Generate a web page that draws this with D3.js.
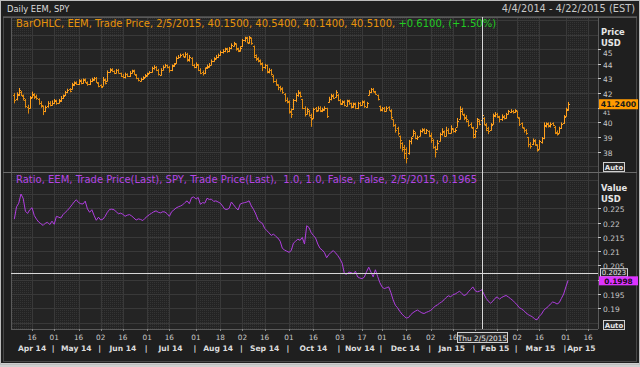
<!DOCTYPE html>
<html>
<head>
<meta charset="utf-8">
<style>
  html, body { margin: 0; padding: 0; background: #1e1e1e; }
  svg { display: block; font-family: "DejaVu Sans", sans-serif; }
</style>
<script src="https://cdn.jsdelivr.net/npm/d3@7"></script>
</head>
<body>
<svg id="chart" width="640" height="367"></svg>
<script>
// axis range and market holidays (trading-day axis)
const startDate = "2014-04-04";
const endDate = "2015-04-22";
const holidays = ["2014-04-18", "2014-05-26", "2014-07-04", "2014-09-01", "2014-11-27",
  "2014-12-25", "2015-01-01", "2015-01-19", "2015-02-16", "2015-04-03"];

// EEM daily bars, one value per trading day from 4/4/2014
const opens = [
  41.85, 41.6, 41.9, 42.1, 41.8, 41.5, 41.05, 41.0, 41.75, 41.9,
  41.75, 41.6, 41.35, 41.1, 40.8, 41.1, 41.35, 41.2, 41.3, 41.5,
  41.35, 41.45, 41.65, 41.85, 42.1, 42.25, 42.3, 42.55, 42.75, 42.6,
  42.9, 42.7, 42.95, 42.7, 42.6, 42.8, 42.9, 43.05, 42.7, 42.55,
  42.5, 42.95, 42.8, 43.45, 43.65, 43.5, 43.4, 43.6, 43.35, 43.2,
  43.1, 43.3, 43.2, 43.4, 43.55, 43.25, 43.0, 42.85, 42.95, 43.1,
  43.2, 43.35, 43.45, 43.7, 43.8, 43.6, 43.25, 43.6, 43.8, 43.9,
  43.8, 43.55, 43.85, 44.05, 44.4, 44.5, 44.65, 44.5, 44.7, 44.25,
  44.4, 43.9, 43.75, 43.95, 43.6, 43.45, 43.35, 43.75, 43.8, 43.95,
  44.2, 44.4, 44.45, 44.6, 44.8, 44.85, 45.05, 44.85, 45.1, 45.25,
  45.35, 45.05, 44.9, 45.2, 45.6, 45.8, 45.45, 45.75, 45.2, 44.6,
  44.4, 44.25, 44.05, 43.75, 43.9, 43.45, 43.6, 43.2, 42.85, 42.55,
  42.4, 42.35, 41.95, 41.55, 41.4, 40.7, 40.9, 41.55, 41.85, 42.05,
  41.6, 41.0, 40.6, 40.8, 40.4, 40.3, 40.95, 40.85, 41.0, 40.8,
  40.85, 40.95, 41.4, 41.6, 41.85, 41.75, 41.9, 41.5, 41.25, 41.45,
  41.15, 41.5, 41.3, 41.05, 41.3, 40.95, 41.35, 41.2, 41.45, 41.05,
  41.9, 42.05, 42.3, 42.1, 41.85, 41.1, 40.85, 40.95, 40.8, 41.05,
  40.8, 40.2, 39.8, 39.6, 39.1, 38.6, 38.2, 38.2, 37.9, 38.7,
  39.1, 39.3, 38.9, 39.1, 39.4, 39.55, 39.3, 39.4, 39.15, 38.8,
  38.3, 38.2, 38.75, 39.2, 39.35, 39.1, 39.5, 39.3, 39.55, 39.4,
  39.7, 40.2, 40.9, 40.5, 40.35, 40.1, 39.9, 39.6, 39.0, 39.6,
  40.1, 40.15, 40.3, 39.85, 39.6, 39.5, 39.9, 40.45, 40.6, 40.4,
  40.2, 40.45, 40.3, 40.6, 40.7, 40.8, 40.7, 40.75, 40.3, 39.95,
  39.6, 39.5, 39.0, 38.55, 38.5, 38.75, 38.45, 38.2, 38.65, 38.95,
  39.75, 39.95, 39.75, 39.95, 39.7, 39.35, 39.3, 39.6, 39.95, 40.45, 40.85
];
const highs = [
  42.0, 42.05, 42.35, 42.15, 41.9, 41.6, 41.2, 41.8, 42.1, 42.0,
  41.9, 41.65, 41.45, 41.15, 41.15, 41.45, 41.45, 41.5, 41.6, 41.55,
  41.6, 41.8, 41.9, 42.15, 42.3, 42.35, 42.7, 42.8, 42.8, 42.95,
  42.95, 43.0, 43.0, 42.8, 42.95, 43.05, 43.1, 43.1, 42.75, 42.6,
  43.1, 43.0, 43.55, 43.7, 43.7, 43.55, 43.65, 43.65, 43.4, 43.3,
  43.4, 43.35, 43.5, 43.6, 43.6, 43.3, 43.05, 43.05, 43.15, 43.3,
  43.4, 43.5, 43.8, 43.9, 43.85, 43.65, 43.7, 43.9, 44.0, 43.95,
  43.85, 43.95, 44.05, 44.5, 44.6, 44.7, 44.7, 44.8, 44.75, 44.6,
  44.45, 44.0, 44.1, 44.0, 43.7, 43.55, 43.75, 43.95, 44.05, 44.3,
  44.45, 44.6, 44.7, 44.9, 45.0, 45.1, 45.1, 45.15, 45.4, 45.5,
  45.4, 45.1, 45.2, 45.7, 45.85, 45.85, 45.9, 45.8, 45.25, 44.65,
  44.45, 44.3, 44.1, 44.0, 43.95, 43.7, 43.65, 43.25, 42.95, 42.6,
  42.5, 42.4, 42.0, 41.7, 41.5, 40.95, 41.6, 42.0, 42.2, 42.1,
  41.6, 41.1, 41.0, 40.85, 40.6, 41.0, 41.05, 41.1, 41.1, 41.0,
  41.1, 41.0, 41.75, 41.95, 41.95, 42.2, 41.95, 41.6, 41.5, 41.5,
  41.55, 41.55, 41.35, 41.35, 41.35, 41.4, 41.4, 41.5, 41.5, 41.4,
  42.2, 42.35, 42.35, 42.15, 41.9, 41.15, 41.05, 41.05, 41.1, 41.1,
  40.9, 40.2, 39.9, 39.7, 39.1, 38.65, 38.45, 38.3, 38.8, 39.0,
  39.5, 39.35, 39.1, 39.5, 39.6, 39.6, 39.55, 39.45, 39.3, 38.85,
  38.4, 38.8, 39.3, 39.6, 39.45, 39.7, 39.6, 39.8, 39.6, 39.6,
  40.3, 41.1, 41.0, 40.6, 40.5, 40.15, 40.0, 39.7, 39.5, 40.3,
  40.2, 40.54, 40.35, 39.95, 39.7, 39.95, 40.6, 40.7, 40.65, 40.45,
  40.55, 40.5, 40.65, 40.85, 40.9, 40.85, 40.9, 40.8, 40.35, 40.0,
  39.65, 39.55, 39.0, 38.65, 38.9, 38.85, 38.5, 38.8, 39.0, 40.0,
  40.0, 40.0, 40.0, 40.0, 39.75, 39.45, 39.7, 40.0, 40.5, 41.0, 41.4
];
const lows = [
  41.3, 41.5, 41.8, 41.8, 41.5, 41.0, 40.6, 40.95, 41.65, 41.6,
  41.55, 41.2, 41.0, 40.5, 40.7, 41.0, 41.1, 41.15, 41.25, 41.2,
  41.3, 41.4, 41.6, 41.8, 42.0, 42.05, 42.25, 42.5, 42.55, 42.55,
  42.6, 42.65, 42.7, 42.5, 42.55, 42.75, 42.85, 42.7, 42.4, 42.35,
  42.5, 42.6, 42.8, 43.4, 43.45, 43.3, 43.35, 43.35, 43.1, 43.0,
  43.0, 43.1, 43.1, 43.35, 43.25, 42.95, 42.8, 42.8, 42.9, 43.05,
  43.15, 43.3, 43.4, 43.6, 43.5, 43.2, 43.2, 43.55, 43.75, 43.7,
  43.4, 43.5, 43.8, 44.0, 44.35, 44.45, 44.45, 44.45, 44.15, 44.15,
  43.85, 43.7, 43.7, 43.5, 43.3, 43.2, 43.3, 43.65, 43.75, 43.9,
  44.15, 44.3, 44.4, 44.55, 44.7, 44.8, 44.75, 44.8, 45.0, 45.2,
  44.9, 44.8, 44.85, 45.15, 45.5, 45.4, 45.4, 45.3, 44.4, 44.2,
  44.1, 43.9, 43.5, 43.65, 43.35, 43.35, 43.2, 42.7, 42.5, 42.2,
  42.1, 41.95, 41.4, 41.3, 40.6, 40.3, 40.85, 41.4, 41.75, 41.7,
  40.9, 40.4, 40.55, 40.4, 39.7, 40.25, 40.7, 40.75, 40.7, 40.7,
  40.8, 40.3, 41.35, 41.5, 41.6, 41.7, 41.45, 41.2, 41.2, 41.1,
  41.1, 41.2, 40.95, 41.0, 40.9, 40.9, 41.1, 41.15, 41.0, 41.0,
  41.85, 42.0, 42.05, 41.9, 41.5, 40.75, 40.75, 40.7, 40.75, 40.8,
  40.2, 39.7, 39.3, 39.1, 38.2, 38.0, 37.5, 37.2, 37.8, 38.5,
  39.05, 38.85, 38.8, 39.05, 39.3, 39.2, 39.2, 39.0, 38.6, 38.2,
  37.6, 38.1, 38.7, 39.1, 39.0, 39.05, 39.2, 39.25, 39.3, 39.3,
  39.7, 40.2, 40.5, 40.15, 40.0, 39.7, 39.6, 38.9, 38.95, 39.6,
  39.8, 40.14, 39.8, 39.4, 39.2, 39.45, 39.85, 40.35, 40.3, 40.0,
  40.1, 40.2, 40.25, 40.55, 40.65, 40.6, 40.65, 40.3, 39.75, 39.6,
  39.3, 39.15, 38.3, 38.2, 38.45, 38.4, 38.0, 38.15, 38.55, 38.85,
  39.65, 39.65, 39.65, 39.75, 39.2, 39.1, 39.25, 39.55, 39.9, 40.4, 40.8
];
const closes = [
  41.55, 41.95, 42.2, 41.9, 41.65, 41.1, 40.95, 41.7, 41.95, 41.8,
  41.7, 41.3, 41.2, 40.75, 41.05, 41.3, 41.2, 41.35, 41.45, 41.3,
  41.5, 41.7, 41.8, 42.05, 42.2, 42.15, 42.6, 42.7, 42.65, 42.85,
  42.7, 42.9, 42.75, 42.6, 42.85, 42.95, 43.0, 42.75, 42.5, 42.45,
  42.9, 42.7, 43.45, 43.6, 43.5, 43.35, 43.55, 43.4, 43.2, 43.1,
  43.3, 43.15, 43.4, 43.5, 43.3, 43.0, 42.9, 42.95, 43.05, 43.25,
  43.3, 43.45, 43.7, 43.8, 43.55, 43.3, 43.6, 43.8, 43.9, 43.75,
  43.6, 43.9, 44.0, 44.4, 44.5, 44.6, 44.55, 44.7, 44.3, 44.45,
  43.95, 43.8, 44.0, 43.6, 43.4, 43.35, 43.7, 43.85, 43.95, 44.2,
  44.35, 44.5, 44.6, 44.8, 44.9, 45.0, 44.85, 45.05, 45.3, 45.4,
  45.0, 44.95, 45.1, 45.6, 45.75, 45.5, 45.8, 45.4, 44.5, 44.35,
  44.2, 44.0, 43.8, 43.9, 43.5, 43.6, 43.3, 42.8, 42.6, 42.4,
  42.3, 42.1, 41.5, 41.45, 40.8, 40.6, 41.5, 41.9, 42.0, 41.8,
  41.0, 40.6, 40.9, 40.5, 40.2, 40.9, 40.8, 41.0, 40.85, 40.9,
  41.0, 40.45, 41.6, 41.8, 41.7, 42.1, 41.55, 41.3, 41.4, 41.2,
  41.45, 41.3, 41.1, 41.25, 41.0, 41.3, 41.2, 41.4, 41.1, 41.3,
  42.1, 42.25, 42.15, 41.95, 41.6, 40.9, 40.95, 40.8, 41.0, 40.85,
  40.4, 39.8, 39.5, 39.3, 38.8, 38.3, 37.9, 37.6, 38.7, 38.9,
  39.4, 38.95, 39.0, 39.4, 39.5, 39.3, 39.45, 39.1, 38.9, 38.3,
  38.0, 38.6, 39.2, 39.4, 39.1, 39.5, 39.3, 39.6, 39.4, 39.5,
  40.1, 40.8, 40.6, 40.3, 40.2, 39.8, 39.7, 39.2, 39.4, 40.2,
  39.9, 40.51, 39.9, 39.5, 39.4, 39.8, 40.5, 40.6, 40.45, 40.2,
  40.4, 40.3, 40.55, 40.75, 40.8, 40.7, 40.85, 40.4, 39.9, 39.7,
  39.45, 39.3, 38.5, 38.4, 38.8, 38.5, 38.1, 38.7, 38.9, 39.8,
  39.9, 39.8, 39.9, 39.85, 39.3, 39.2, 39.6, 39.9, 40.4, 40.9, 41.24
];

// EEM / SPY ratio, same trading days
const ratio = [
  0.2212, 0.2255, 0.2268, 0.2300, 0.2285, 0.2240, 0.2232, 0.2245, 0.2252, 0.2225,
  0.2212, 0.2202, 0.2196, 0.2190, 0.2198, 0.2201, 0.2193, 0.2205, 0.2194, 0.2222,
  0.2219, 0.2216, 0.2228, 0.2236, 0.2243, 0.2252, 0.2262, 0.2272, 0.2280, 0.2270,
  0.2266, 0.2265, 0.2275, 0.2248, 0.2236, 0.2245, 0.2225, 0.2208, 0.2219, 0.2209,
  0.2212, 0.2222, 0.2236, 0.2246, 0.2247, 0.2245, 0.2238, 0.2231, 0.2233, 0.2229,
  0.2222, 0.2226, 0.2228, 0.2223, 0.2216, 0.2209, 0.2213, 0.2211, 0.2207, 0.2215,
  0.2222, 0.2228, 0.2233, 0.2238, 0.2241, 0.2236, 0.2234, 0.2238, 0.2237, 0.2231,
  0.2222, 0.2238, 0.2244, 0.2251, 0.2255, 0.2258, 0.2262, 0.2270, 0.2276, 0.2266,
  0.2287, 0.2290, 0.2282, 0.2288, 0.2264, 0.2270, 0.2268, 0.2285, 0.2281, 0.2282,
  0.2274, 0.2276, 0.2272, 0.2268, 0.2258, 0.2247, 0.2246, 0.2250, 0.2272, 0.2262,
  0.2252, 0.2244, 0.2265, 0.2268, 0.2270, 0.2272, 0.2276, 0.2258, 0.2246, 0.2230,
  0.2210, 0.2202, 0.2197, 0.2180, 0.2172, 0.2164, 0.2155, 0.2160, 0.2152, 0.2146,
  0.2135, 0.2110, 0.2104, 0.2100, 0.2096, 0.2102, 0.2128, 0.2135, 0.2142, 0.2138,
  0.2148, 0.2125, 0.2189, 0.2183, 0.2165, 0.2155, 0.2146, 0.2125, 0.2110, 0.2104,
  0.2095, 0.2077, 0.2088, 0.2096, 0.2102, 0.2094, 0.2085, 0.2073, 0.2058, 0.2022,
  0.2019, 0.2027, 0.2025, 0.2021, 0.2030, 0.2010, 0.2006, 0.2004, 0.2009, 0.2028,
  0.2044, 0.2027, 0.2010, 0.2035, 0.2012, 0.1990, 0.1975, 0.1969, 0.1972, 0.1975,
  0.1955, 0.1930, 0.1911, 0.1902, 0.1890, 0.1880, 0.1872, 0.1866, 0.1868, 0.1878,
  0.1885, 0.1890, 0.1894, 0.1889, 0.1884, 0.1882, 0.1886, 0.1889, 0.1893, 0.1900,
  0.1908, 0.1912, 0.1918, 0.1923, 0.1930, 0.1938, 0.1944, 0.1940, 0.1948, 0.1950,
  0.1955, 0.1960, 0.1952, 0.1945, 0.1948, 0.1958, 0.1966, 0.1975, 0.1962, 0.1958,
  0.1960, 0.1965, 0.1950, 0.1935, 0.1925, 0.1918, 0.1925, 0.1935, 0.1940, 0.1932,
  0.1938, 0.1942, 0.1945, 0.1940, 0.1934, 0.1928, 0.1920, 0.1912, 0.1902, 0.1898,
  0.1892, 0.1884, 0.1878, 0.1874, 0.1870, 0.1862, 0.1860, 0.1872, 0.1880, 0.1893,
  0.1900, 0.1906, 0.1915, 0.1922, 0.1920, 0.1915, 0.1920, 0.1935, 0.1950, 0.1975, 0.1998
];

const priceTicks = [38, 39, 40, 41, 42, 43, 44, 45];
const ratioTicks = [0.19, 0.195, 0.2, 0.205, 0.21, 0.215, 0.22, 0.225];
const priceDomain = [36.61, 47.2];
const ratioDomain = [0.18277, 0.2377];

// crosshair state
const crossDate = "2015-02-05";
const crossValue = 0.2023;
const crossChangePct = "+1.50%";

const plot = { left: 11, right: 598, top: 17, mid: 172, bottom: 329 };
const svg = d3.select("#chart");

const parse = d3.timeParse("%Y-%m-%d");
const fmt = d3.timeFormat("%Y-%m-%d");
const days = d3.timeDay
  .range(parse(startDate), d3.timeDay.offset(parse(endDate), 1))
  .filter((d) => d.getDay() !== 0 && d.getDay() !== 6 && !holidays.includes(fmt(d)));

const x = d3.scaleLinear().domain([-1.5, days.length - 0.5]).range([plot.left, plot.right]);
const yP = d3.scaleLinear().domain(priceDomain).range([plot.mid, plot.top]);
const yR = d3.scaleLinear().domain(ratioDomain).range([plot.bottom, plot.mid]);
const step = x(1) - x(0);
const px = (v) => Math.round(v) + 0.5;

// day ticks: first trading day on/after the 1st and the 16th
const dayTicks = [];
d3.timeMonth.range(d3.timeMonth.floor(days[0]), days[days.length - 1]).forEach((m) => {
  [1, 16].forEach((dd) => {
    const target = new Date(m.getFullYear(), m.getMonth(), dd);
    const i = days.findIndex((d) => d >= target);
    if (i < 0 || days[i].getMonth() !== m.getMonth()) return;
    if (dd === 1 && days[i].getDate() > 3) return;
    dayTicks.push({ i, dd });
  });
});

// month spans
const monthStarts = days
  .map((d, i) => i)
  .filter((i) => i === 0 || days[i].getMonth() !== days[i - 1].getMonth());

// ---- background & frame
const defs = svg.append("defs");
const pat = defs.append("pattern").attr("id", "dots")
  .attr("width", 2).attr("height", 2).attr("patternUnits", "userSpaceOnUse");
pat.append("rect").attr("width", 1).attr("height", 1).attr("fill", "#343434");

svg.append("rect").attr("width", 640).attr("height", 367).attr("fill", "#1f1f1f");
svg.append("rect").attr("x", 0).attr("y", 363).attr("width", 640).attr("height", 4).attr("fill", "#cfcfcf");
svg.append("rect").attr("x", 0.5).attr("y", 0.5).attr("width", 639).attr("height", 364)
  .attr("fill", "none").attr("stroke", "#bdbdbd");
svg.append("rect").attr("x", 3.5).attr("y", 16.5).attr("width", 633).attr("height", 345)
  .attr("fill", "none").attr("stroke", "#474747");

[[plot.top, plot.mid], [plot.mid, plot.bottom]].forEach(([t, b]) => {
  svg.append("rect").attr("x", plot.left).attr("y", t)
    .attr("width", plot.right - plot.left).attr("height", b - t).attr("fill", "#242424");
  // textured first half of each month
  dayTicks.forEach((tk, k) => {
    if (tk.dd !== 1) return;
    const next = dayTicks[k + 1];
    const x0 = x(tk.i);
    const x1 = next ? x(next.i) : plot.right;
    svg.append("rect").attr("x", x0).attr("y", t).attr("width", x1 - x0)
      .attr("height", b - t).attr("fill", "url(#dots)");
  });
  svg.append("rect").attr("x", plot.left).attr("y", t).attr("width", x(dayTicks[0].i) - plot.left)
    .attr("height", b - t).attr("fill", "url(#dots)");
});

// grid
const grid = svg.append("g").attr("stroke", "#393939").attr("stroke-width", 1);
dayTicks.forEach((tk) => {
  grid.append("line").attr("x1", px(x(tk.i))).attr("x2", px(x(tk.i)))
    .attr("y1", plot.top).attr("y2", plot.bottom);
});
d3.range(37, 48).forEach((v) => {
  const yy = px(yP(v));
  if (yy > plot.top && yy < plot.mid) grid.append("line").attr("x1", plot.left).attr("x2", plot.right).attr("y1", yy).attr("y2", yy);
});
d3.range(0.185, 0.2375, 0.005).forEach((v) => {
  const yy = px(yR(v));
  if (yy > plot.mid && yy < plot.bottom) grid.append("line").attr("x1", plot.left).attr("x2", plot.right).attr("y1", yy).attr("y2", yy);
});

// panel borders
const border = svg.append("g").attr("stroke", "#5a5a5a").attr("fill", "none");
border.append("line").attr("x1", plot.left + 0.5).attr("x2", plot.left + 0.5).attr("y1", plot.top).attr("y2", plot.bottom);
border.append("line").attr("x1", plot.right + 0.5).attr("x2", plot.right + 0.5).attr("y1", plot.top).attr("y2", plot.bottom);
border.append("line").attr("x1", 3).attr("x2", 637).attr("y1", plot.top + 0.5).attr("y2", plot.top + 0.5);
border.append("line").attr("x1", 3).attr("x2", 637).attr("y1", plot.mid + 0.5).attr("y2", plot.mid + 0.5).attr("stroke", "#6a6a6a");
border.append("line").attr("x1", plot.left).attr("x2", plot.right).attr("y1", plot.bottom + 0.5).attr("y2", plot.bottom + 0.5);

// ---- OHLC bars
const bars = closes.map((c, i) => ({ i, o: opens[i], h: highs[i], l: lows[i], c }));
svg.append("g")
  .selectAll("path")
  .data(bars)
  .join("path")
  .attr("fill", "none")
  .attr("stroke", (d) => (d.c >= d.o ? "#ffa01e" : "#e08a10"))
  .attr("stroke-width", 1)
  .attr("d", (d) => {
    const cx = px(x(d.i));
    return `M${cx},${yP(d.h)}V${yP(d.l)}M${cx - 1.5},${px(yP(d.o))}H${cx}M${cx},${px(yP(d.c))}H${cx + 1.5}`;
  });

// ---- ratio line
svg.append("path")
  .datum(ratio)
  .attr("fill", "none")
  .attr("stroke", "#b03ee0")
  .attr("stroke-width", 1)
  .attr("d", d3.line().x((d, i) => x(i)).y((d) => yR(d)));

// ---- crosshair
const ci = days.findIndex((d) => fmt(d) === crossDate);
const cxPos = px(x(ci));
svg.append("line").attr("x1", cxPos).attr("x2", cxPos).attr("y1", plot.top).attr("y2", plot.bottom)
  .attr("stroke", "#d8d8d8");
svg.append("line").attr("x1", plot.left).attr("x2", plot.right)
  .attr("y1", px(yR(crossValue))).attr("y2", px(yR(crossValue)))
  .attr("stroke", "#d8d8d8");

// ---- texts
const txt = (g, xx, yy, s, opts = {}) =>
  g.append("text").attr("x", xx).attr("y", yy).text(s)
    .attr("font-size", opts.size || 7.5)
    .attr("font-weight", opts.bold ? "bold" : null)
    .attr("fill", opts.fill || "#c8c8c8")
    .attr("text-anchor", opts.anchor || "start");

const dateFmt = d3.timeFormat("%-m/%-d/%Y");
const labels = svg.append("g");
txt(labels, 7, 12, "Daily EEM, SPY", { fill: "#dcdcdc", size: 8.4 });
txt(labels, 635, 12, `${dateFmt(days[0])} - ${dateFmt(days[days.length - 1])} (EST)`,
  { anchor: "end", fill: "#c8c8c8", size: 9.8 });

const f4 = d3.format(".4f");
const crossLabel = dateFmt(days[ci]);
const change = closes[ci] - closes[ci - 1];
const h1 = labels.append("text").attr("x", 16).attr("y", 27).attr("font-size", 10);
h1.append("tspan").attr("fill", "#e8940c")
  .text(`BarOHLC, EEM, Trade Price, ${crossLabel}, ${f4(opens[ci])}, ${f4(highs[ci])}, ${f4(lows[ci])}, ${f4(closes[ci])}, `);
h1.append("tspan").attr("fill", "#22cc22").text(`${change >= 0 ? "+" : ""}${f4(change)}, (${crossChangePct})`);

labels.append("text").attr("x", 16).attr("y", 183).attr("font-size", 10)
  .attr("fill", "#b446e4").style("white-space", "pre")
  .text(`Ratio, EEM, Trade Price(Last), SPY, Trade Price(Last),  1.0, 1.0, False, False, ${crossLabel}, ${ratio[ci].toFixed(4)}`);

// price axis
const lastI = closes.length - 1;
const axisG = svg.append("g");
txt(axisG, 601, 35, "Price", { bold: true, fill: "#e6e6e6", size: 8.4 });
txt(axisG, 601, 46, "USD", { bold: true, fill: "#e6e6e6", size: 8.4 });
priceTicks.forEach((v) => {
  const yy = px(yP(v));
  axisG.append("line").attr("x1", 598).attr("x2", 601).attr("y1", yy).attr("y2", yy).attr("stroke", "#c8c8c8");
  // top label is pushed below the unit caption; the one under the last-value tag peeks out below it
  let ly = Math.max(yy + 3, 56);
  if (Math.abs(yP(v) - yP(closes[lastI])) < 6) ly = yP(closes[lastI]) + 11;
  txt(axisG, 603, ly, String(v), { size: Math.abs(yP(v) - yP(closes[lastI])) < 6 ? 6 : 7.5 });
});
txt(axisG, 601, 191, "Value", { bold: true, fill: "#e6e6e6", size: 8.4 });
txt(axisG, 601, 202, "USD", { bold: true, fill: "#e6e6e6", size: 8.4 });
ratioTicks.forEach((v) => {
  const yy = px(yR(v));
  axisG.append("line").attr("x1", 598).attr("x2", 601).attr("y1", yy).attr("y2", yy).attr("stroke", "#c8c8c8");
  // labels fully covered by the last-value tag are not drawn
  if (Math.abs(yR(v) - yR(ratio[lastI])) < 4) return;
  txt(axisG, 603, yy + 3, d3.format(".3~f")(v));
});

// auto boxes
[165, 323].forEach((yy) => {
  axisG.append("rect").attr("x", 603.5).attr("y", yy - 2.5).attr("width", 21).attr("height", 9)
    .attr("fill", "#2a2a2a").attr("stroke", "#d0d0d0");
  txt(axisG, 614, yy + 4.5, "Auto", { anchor: "middle", bold: true, fill: "#e6e6e6", size: 7 });
});

// last value labels
axisG.append("rect").attr("x", 599).attr("y", yP(closes[lastI]) - 5).attr("width", 39).attr("height", 10)
  .attr("fill", "#ff9a00");
txt(axisG, 618.5, yP(closes[lastI]) + 3, f4(closes[lastI]), { anchor: "middle", fill: "#1a1a1a", size: 7.8, bold: true });

axisG.append("rect").attr("x", 600.5).attr("y", yR(crossValue) - 4.5).attr("width", 27).attr("height", 8)
  .attr("fill", "#262626").attr("stroke", "#d0d0d0");
txt(axisG, 614, yR(crossValue) + 2.2, f4(crossValue), { anchor: "middle", fill: "#e6e6e6", size: 7 });

axisG.append("rect").attr("x", 599).attr("y", yR(ratio[lastI]) - 4).attr("width", 39).attr("height", 9)
  .attr("fill", "#dd33ff");
txt(axisG, 618.5, yR(ratio[lastI]) + 3.5, f4(ratio[lastI]), { anchor: "middle", fill: "#1a0a20", size: 7.4, bold: true });

// x axis
const xg = svg.append("g");
const boxHalf = 25;
dayTicks.forEach((tk) => {
  xg.append("line").attr("x1", px(x(tk.i))).attr("x2", px(x(tk.i)))
    .attr("y1", plot.bottom).attr("y2", plot.bottom + 2).attr("stroke", "#888");
  // day labels hidden under the crosshair date box are skipped
  if (Math.abs(x(tk.i) - cxPos) < boxHalf) return;
  txt(xg, x(tk.i), 340, d3.timeFormat("%d")(days[tk.i]), { anchor: "middle", size: 7.3 });
});
monthStarts.forEach((i, k) => {
  const sx = i === 0 ? plot.left : x(i) - step / 2;
  const ex = k + 1 < monthStarts.length ? x(monthStarts[k + 1]) - step / 2 : plot.right;
  if (i > 0) txt(xg, sx, 351, "|", { anchor: "middle", bold: true, fill: "#dcdcdc", size: 7.6 });
  txt(xg, (sx + Math.min(ex, plot.right)) / 2, 351, d3.timeFormat("%b %y")(days[i]),
    { anchor: "middle", bold: true, fill: "#dcdcdc", size: 7.6 });
});

// crosshair date box
xg.append("rect").attr("x", cxPos - boxHalf).attr("y", 332.5).attr("width", boxHalf * 2).attr("height", 10)
  .attr("fill", "#2a2a2a").attr("stroke", "#d0d0d0");
txt(xg, cxPos, 340.5, d3.timeFormat("%a %-m/%-d/%Y")(days[ci]), { anchor: "middle", fill: "#e6e6e6", size: 7.4 });
</script>
</body>
</html>
